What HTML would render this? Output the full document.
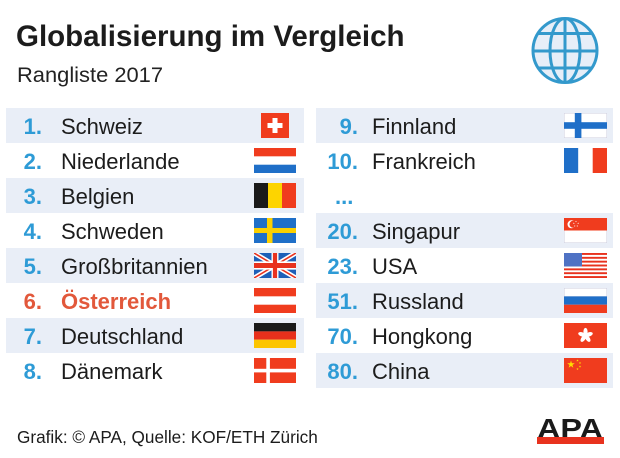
<!DOCTYPE html>
<html><head><meta charset="utf-8"><style>
html,body{margin:0;padding:0;background:#fff;}
svg{display:block;}
text{font-family:"Liberation Sans",Arial,sans-serif;}
</style></head><body>
<svg width="620" height="458" viewBox="0 0 620 458" xmlns="http://www.w3.org/2000/svg">
<defs>
<polygon id="st" points="0,-1 0.2245,-0.309 0.951,-0.309 0.363,0.118 0.588,0.809 0,0.382 -0.588,0.809 -0.363,0.118 -0.951,-0.309 -0.2245,-0.309"/>
<clipPath id="gc"><circle cx="565" cy="50.5" r="32"/></clipPath>
</defs>
<rect width="620" height="458" fill="#fff"/>

<!-- Title -->
<text x="16" y="46" font-size="29.5" font-weight="bold" fill="#1c1c1c">Globalisierung im Vergleich</text>
<text x="17" y="82" font-size="21.5" fill="#222" textLength="146" lengthAdjust="spacingAndGlyphs">Rangliste 2017</text>

<!-- Globe -->
<circle cx="565" cy="50.5" r="32" fill="#e6eef8"/>
<g clip-path="url(#gc)" stroke="#3399cc" stroke-width="3" fill="none">
<ellipse cx="565" cy="50.5" rx="15" ry="32"/>
<line x1="565" y1="15" x2="565" y2="86"/>
<line x1="530" y1="33.5" x2="600" y2="33.5"/>
<line x1="530" y1="51" x2="600" y2="51"/>
<line x1="530" y1="68" x2="600" y2="68"/>
</g>
<circle cx="565" cy="50.5" r="32" fill="none" stroke="#3399cc" stroke-width="3"/>

<!-- Row bands -->
<g fill="#e9eef7">
<rect x="6" y="108" width="298" height="35"/>
<rect x="6" y="178" width="298" height="35"/>
<rect x="6" y="248" width="298" height="35"/>
<rect x="6" y="318" width="298" height="35"/>
<rect x="316" y="108" width="297" height="35"/>
<rect x="316" y="213" width="297" height="35"/>
<rect x="316" y="283" width="297" height="35"/>
<rect x="316" y="353" width="297" height="35"/>
</g>

<!-- Left numbers -->
<g font-size="22" font-weight="bold" fill="#2e9bd6" text-anchor="end">
<text x="42" y="134">1.</text>
<text x="42" y="169">2.</text>
<text x="42" y="204">3.</text>
<text x="42" y="239">4.</text>
<text x="42" y="274">5.</text>
<text x="42" y="309" fill="#e2583b">6.</text>
<text x="42" y="344">7.</text>
<text x="42" y="379">8.</text>
</g>
<g font-size="22" fill="#1c1c1c">
<text x="61" y="134">Schweiz</text>
<text x="61" y="169">Niederlande</text>
<text x="61" y="204">Belgien</text>
<text x="61" y="239">Schweden</text>
<text x="61" y="274">Großbritannien</text>
<text x="61" y="309" fill="#e2583b" font-weight="bold">Österreich</text>
<text x="61" y="344">Deutschland</text>
<text x="61" y="379">Dänemark</text>
</g>

<!-- Right numbers -->
<g font-size="22" font-weight="bold" fill="#2e9bd6" text-anchor="end">
<text x="358" y="134">9.</text>
<text x="358" y="169">10.</text>
<text x="358" y="239">20.</text>
<text x="358" y="274">23.</text>
<text x="358" y="309">51.</text>
<text x="358" y="344">70.</text>
<text x="358" y="379">80.</text>
</g>
<text x="335" y="204" font-size="22" font-weight="bold" fill="#2e9bd6">...</text>
<g font-size="22" fill="#1c1c1c">
<text x="372" y="134">Finnland</text>
<text x="372" y="169">Frankreich</text>
<text x="372" y="239">Singapur</text>
<text x="372" y="274">USA</text>
<text x="372" y="309">Russland</text>
<text x="372" y="344">Hongkong</text>
<text x="372" y="379">China</text>
</g>

<!-- Flags left -->
<g transform="translate(261,113)">
<rect width="28" height="25" fill="#f03c1e"/>
<rect x="11.5" y="5" width="5" height="15" fill="#fff"/>
<rect x="6.5" y="10" width="15" height="5" fill="#fff"/>
</g>
<g transform="translate(254,148)">
<rect width="42" height="8.4" fill="#f03c1e"/>
<rect y="8.4" width="42" height="8.3" fill="#fff"/>
<rect y="16.7" width="42" height="8.3" fill="#1f6fc8"/>
</g>
<g transform="translate(254,183)">
<rect width="14" height="25" fill="#1a1a1a"/>
<rect x="14" width="14" height="25" fill="#fdd400"/>
<rect x="28" width="14" height="25" fill="#f03c1e"/>
</g>
<g transform="translate(254,218)">
<rect width="42" height="25" fill="#1f6fc8"/>
<rect x="13" width="5.5" height="25" fill="#fbd000"/>
<rect y="10" width="42" height="5" fill="#fbd000"/>
</g>
<svg x="254" y="253" width="42" height="25" viewBox="0 0 60 30" preserveAspectRatio="none">
<rect width="60" height="30" fill="#1e5fb8"/>
<path d="M0,0 L60,30 M60,0 L0,30" stroke="#fff" stroke-width="6"/>
<path d="M0,0 L60,30 M60,0 L0,30" stroke="#e8321e" stroke-width="2"/>
<path d="M30,0 V30 M0,15 H60" stroke="#fff" stroke-width="10"/>
<path d="M30,0 V30 M0,15 H60" stroke="#e8321e" stroke-width="6"/>
</svg>
<g transform="translate(254,288)">
<rect width="42" height="8.4" fill="#f03c1e"/>
<rect y="8.4" width="42" height="8.3" fill="#fff"/>
<rect y="16.7" width="42" height="8.3" fill="#f03c1e"/>
</g>
<g transform="translate(254,323)">
<rect width="42" height="8.4" fill="#1a1a1a"/>
<rect y="8.4" width="42" height="8.3" fill="#e8301c"/>
<rect y="16.7" width="42" height="8.3" fill="#fcc500"/>
</g>
<g transform="translate(254,358)">
<rect width="42" height="25" fill="#f03c1e"/>
<rect x="12.3" width="3.6" height="25" fill="#fff"/>
<rect y="10.8" width="42" height="3.6" fill="#fff"/>
</g>

<!-- Flags right -->
<g transform="translate(564,113)">
<rect x="0.25" y="0.25" width="42.5" height="24.5" fill="#fff" stroke="#ccd" stroke-width="0.5"/>
<rect x="10.8" width="6.6" height="25" fill="#1f6fc8"/>
<rect y="9.2" width="43" height="6.6" fill="#1f6fc8"/>
</g>
<g transform="translate(564,148)">
<rect width="14.3" height="25" fill="#1f6fc8"/>
<rect x="14.3" width="14.4" height="25" fill="#fff"/>
<rect x="28.7" width="14.3" height="25" fill="#f03c1e"/>
</g>
<g transform="translate(564,218)">
<rect x="0.25" y="0.25" width="42.5" height="24.5" fill="#fff" stroke="#ccd" stroke-width="0.5"/>
<rect width="43" height="12.5" fill="#f03c1e"/>
<circle cx="7.5" cy="6.3" r="4" fill="#fff"/>
<circle cx="9" cy="6.3" r="3.5" fill="#f03c1e"/>
<g fill="#fff">
<use href="#st" transform="translate(12,3.5) scale(0.9)"/>
<use href="#st" transform="translate(14.2,5.3) scale(0.9)"/>
<use href="#st" transform="translate(13.3,8) scale(0.9)"/>
<use href="#st" transform="translate(10.7,8) scale(0.9)"/>
<use href="#st" transform="translate(9.8,5.3) scale(0.9)"/>
</g>
</g>
<g transform="translate(564,253)">
<rect width="43" height="25" fill="#fff"/>
<g fill="#e8321e">
<rect y="0" width="43" height="1.92"/>
<rect y="3.85" width="43" height="1.92"/>
<rect y="7.69" width="43" height="1.92"/>
<rect y="11.54" width="43" height="1.92"/>
<rect y="15.38" width="43" height="1.92"/>
<rect y="19.23" width="43" height="1.92"/>
<rect y="23.08" width="43" height="1.92"/>
</g>
<rect width="18" height="13.46" fill="#4f72c4"/>
</g>
<g transform="translate(564,288)">
<rect x="0.25" y="0.25" width="42.5" height="8.2" fill="#fff" stroke="#ccd" stroke-width="0.5"/>
<rect y="8.4" width="43" height="8.3" fill="#1f6fc8"/>
<rect y="16.7" width="43" height="8.3" fill="#f03c1e"/>
</g>
<g transform="translate(564,323)">
<rect width="43" height="25" fill="#f03c1e"/>
<g fill="#fff" transform="translate(21.5,12.5)">
<ellipse cx="0" cy="-3.8" rx="2.1" ry="3.8"/>
<ellipse cx="0" cy="-3.8" rx="2.1" ry="3.8" transform="rotate(72)"/>
<ellipse cx="0" cy="-3.8" rx="2.1" ry="3.8" transform="rotate(144)"/>
<ellipse cx="0" cy="-3.8" rx="2.1" ry="3.8" transform="rotate(216)"/>
<ellipse cx="0" cy="-3.8" rx="2.1" ry="3.8" transform="rotate(288)"/>
</g>
</g>
<g transform="translate(564,358)">
<rect width="43" height="25" fill="#f03c1e"/>
<g fill="#ffde00">
<use href="#st" transform="translate(7,6.5) scale(4)"/>
<use href="#st" transform="translate(13.5,2.5) scale(1.3)"/>
<use href="#st" transform="translate(16,5) scale(1.3)"/>
<use href="#st" transform="translate(16,8.5) scale(1.3)"/>
<use href="#st" transform="translate(13.5,11) scale(1.3)"/>
</g>
</g>

<!-- Footer -->
<text x="17" y="443" font-size="17.2" fill="#1c1c1c">Grafik: © APA, Quelle: KOF/ETH Zürich</text>
<text x="537" y="438" font-size="28" font-weight="bold" fill="#1a1a1a" textLength="66" lengthAdjust="spacingAndGlyphs">APA</text>
<rect x="537" y="437" width="67" height="7" fill="#e8321e"/>
</svg>
</body></html>
